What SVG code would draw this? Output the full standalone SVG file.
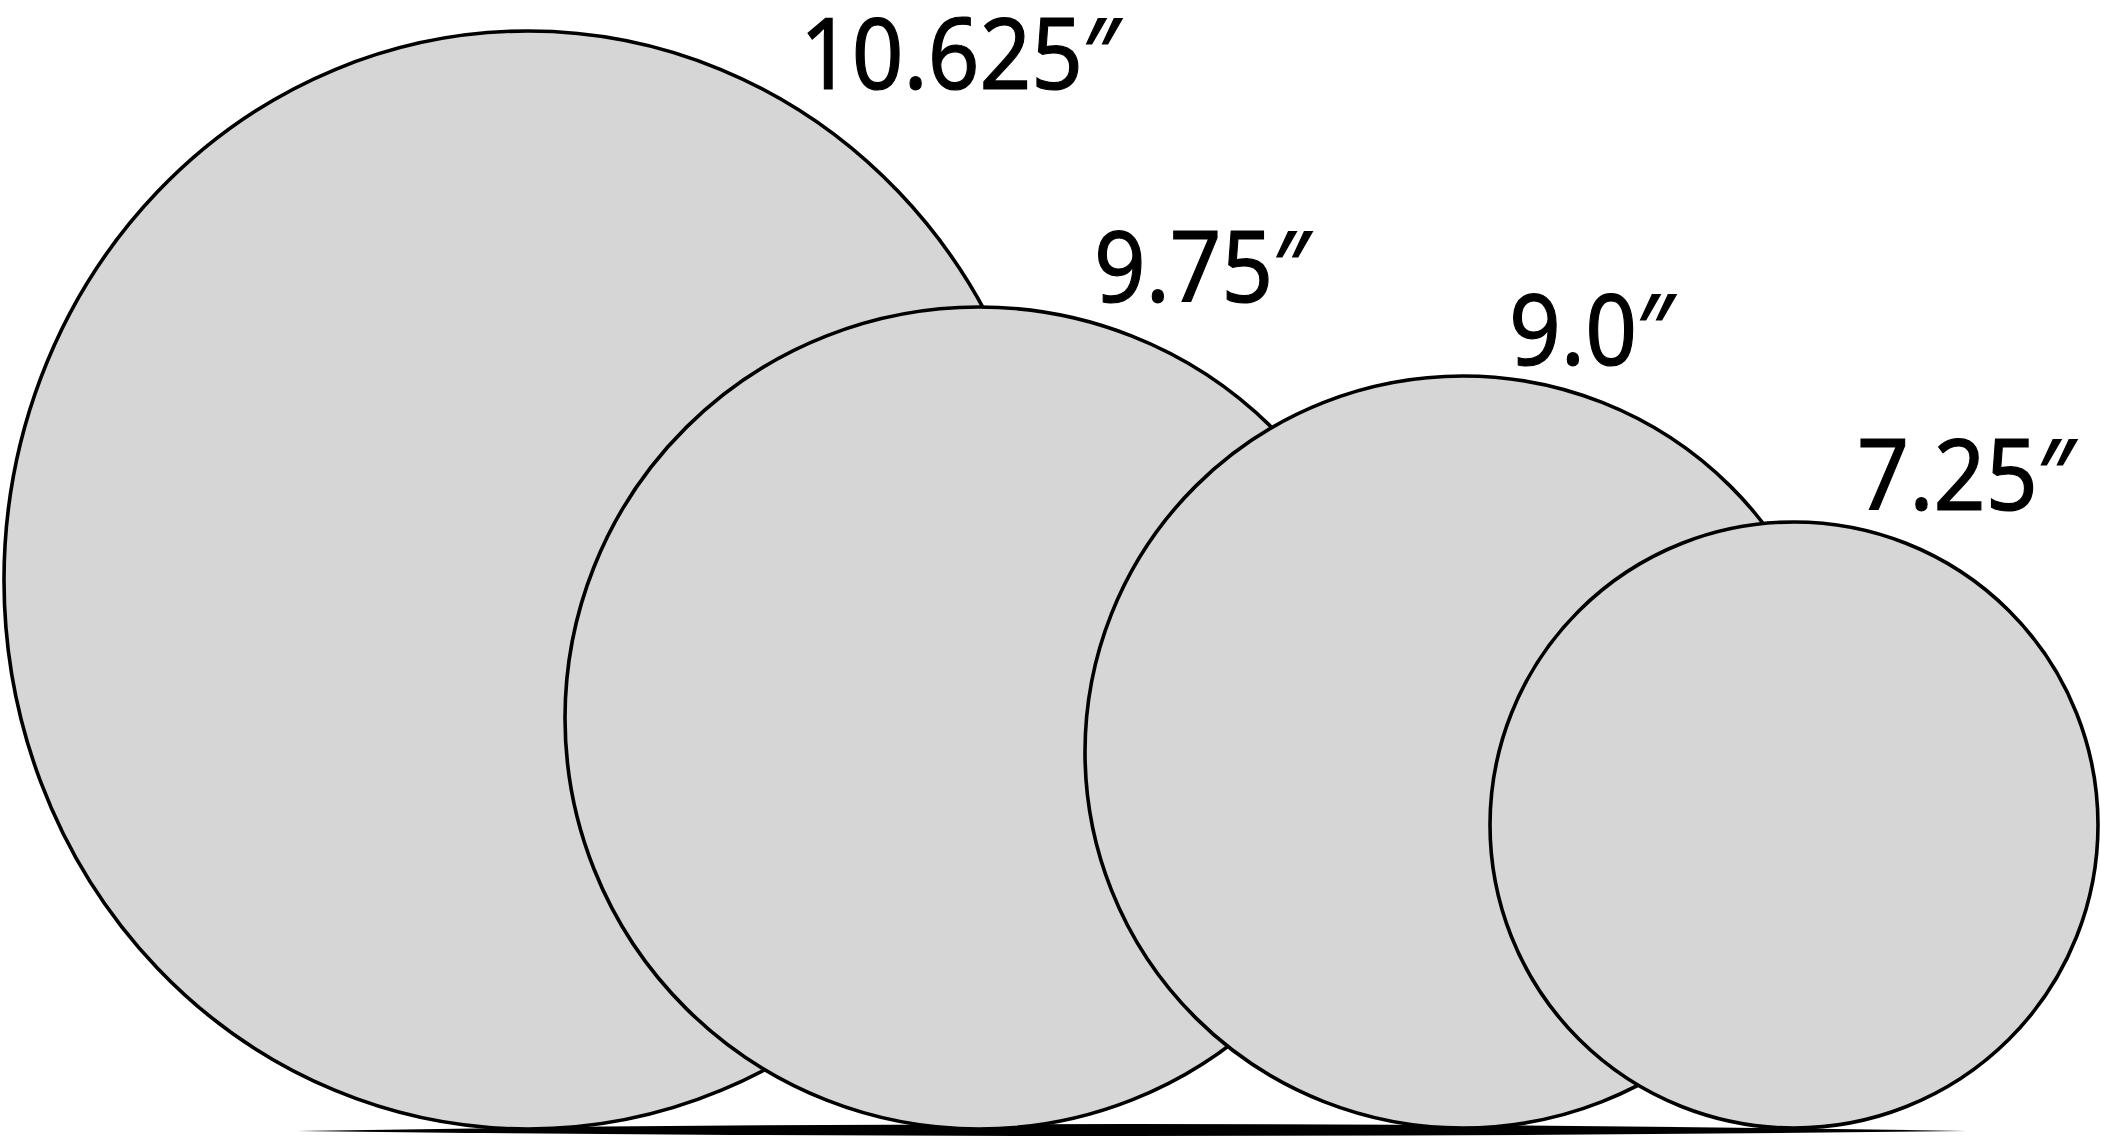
<svg xmlns="http://www.w3.org/2000/svg" width="2101" height="1138" viewBox="0 0 2101 1138">
<style>
.disc{fill:#d6d6d6;stroke:#000;stroke-width:3.6}
.lbl{font-family:"Noto Sans","Open Sans","DejaVu Sans",sans-serif;font-size:98px;fill:#000;stroke:#000;stroke-width:1.2}
</style>
<rect width="2101" height="1138" fill="#fff"/>
<g id="base">
<path d="M297,1131 Q1131,1117 1966,1131 Q1131,1141 297,1131 Z" fill="#000"/>
</g>
<g id="plate-10-625">
<ellipse class="disc" cx="528" cy="580" rx="524" ry="549"/>
</g>
<g id="plate-9-75">
<ellipse class="disc" cx="979" cy="718" rx="414" ry="411"/>
</g>
<g id="plate-9-0">
<ellipse class="disc" cx="1463" cy="752" rx="378" ry="376"/>
</g>
<g id="plate-7-25">
<ellipse class="disc" cx="1794" cy="825" rx="304" ry="303"/>
</g>
<g id="labels">
<text class="lbl" x="800" y="89" textLength="320" lengthAdjust="spacingAndGlyphs">10.625″</text>
<text class="lbl" x="1094" y="302" textLength="216" lengthAdjust="spacingAndGlyphs">9.75″</text>
<text class="lbl" x="1509" y="365" textLength="165" lengthAdjust="spacingAndGlyphs">9.0″</text>
<text class="lbl" x="1857" y="510" textLength="218" lengthAdjust="spacingAndGlyphs">7.25″</text>
</g>
<g id="connectors"></g>
</svg>
